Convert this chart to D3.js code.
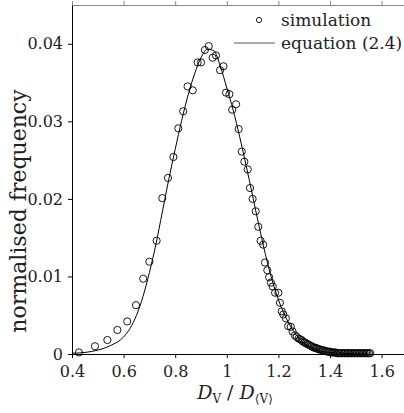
<!DOCTYPE html>
<html>
<head>
<meta charset="utf-8">
<script src="https://cdn.jsdelivr.net/npm/d3@7"></script>
<style>
  body { margin: 0; background: #fff; }
  svg { display: block; }
  text { font-family: "DejaVu Serif", serif; }
</style>
</head>
<body>
<div id="chart"></div>
<script>
// simulation histogram (circles)
const simX = [0.427, 0.489, 0.537, 0.576, 0.614, 0.648, 0.676, 0.700, 0.728, 0.750,
  0.772, 0.793, 0.812, 0.831, 0.848, 0.868, 0.887, 0.900, 0.915, 0.930,
  0.945, 0.958, 0.974, 0.987, 0.997, 1.010, 1.021, 1.036, 1.046, 1.058,
  1.068, 1.081, 1.090, 1.100, 1.112, 1.122, 1.131, 1.141, 1.148, 1.157,
  1.164, 1.171, 1.178, 1.187, 1.200, 1.206, 1.213, 1.219, 1.229, 1.238,
  1.248, 1.255, 1.264, 1.271, 1.278, 1.284, 1.290, 1.295, 1.301, 1.306,
  1.312, 1.317, 1.323, 1.328, 1.334, 1.339, 1.345, 1.350, 1.356, 1.361,
  1.367, 1.372, 1.378, 1.383, 1.389, 1.394, 1.400, 1.405, 1.411, 1.416,
  1.422, 1.427, 1.433, 1.438, 1.444, 1.450, 1.456, 1.461, 1.467, 1.472,
  1.478, 1.484, 1.489, 1.495, 1.500, 1.506, 1.512, 1.517, 1.523, 1.528,
  1.534, 1.540, 1.545, 1.551, 1.556];
const simY = [0.0002, 0.0010, 0.0018, 0.0031, 0.0042, 0.0063, 0.0097, 0.0119, 0.0146, 0.0201,
  0.0227, 0.0254, 0.0291, 0.0313, 0.0345, 0.0340, 0.0376, 0.0376, 0.0392, 0.0397,
  0.0382, 0.0385, 0.0366, 0.0371, 0.0337, 0.0335, 0.0315, 0.0322, 0.0290, 0.0261,
  0.0248, 0.0238, 0.0214, 0.0200, 0.0184, 0.0164, 0.0146, 0.0141, 0.0118, 0.0108,
  0.0099, 0.0092, 0.0087, 0.0079, 0.0079, 0.0066, 0.0055, 0.0051, 0.0046, 0.0036,
  0.0035, 0.0029, 0.0024, 0.0022, 0.0020, 0.0019, 0.0018, 0.0016, 0.0015, 0.0014,
  0.0013, 0.0012, 0.0011, 0.0010, 0.0009, 0.0008, 0.0008, 0.0007, 0.0006, 0.0006,
  0.0005, 0.0005, 0.0004, 0.0004, 0.0003, 0.0003, 0.0003, 0.0002, 0.0002, 0.0002,
  0.0002, 0.0001, 0.0001, 0.0001, 0.0001, 0.0001, 0.0001, 0.0001, 0.0001, 0.0001,
  0.0001, 0.0001, 0.0001, 0.0001, 0.0001, 0.0001, 0.0001, 0.0001, 0.0001, 0.0001,
  0.0001, 0.0001, 0.0001, 0.0001, 0.0001];

// equation (2.4) curve
const eqX = [0.40, 0.45, 0.50, 0.55, 0.60, 0.625, 0.65, 0.675, 0.70, 0.725,
  0.75, 0.775, 0.80, 0.825, 0.85, 0.875, 0.90, 0.925, 0.95, 0.975,
  1.00, 1.025, 1.05, 1.075, 1.10, 1.125, 1.15, 1.175, 1.20, 1.225,
  1.25, 1.275, 1.30, 1.35, 1.40, 1.45, 1.50, 1.55];
const eqY = [0.0001, 0.0002, 0.0005, 0.0011, 0.0022, 0.0033, 0.0050, 0.0074, 0.0105, 0.0141,
  0.0183, 0.0225, 0.0264, 0.0301, 0.0334, 0.0361, 0.0382, 0.0393, 0.0391, 0.0371,
  0.0343, 0.0314, 0.0280, 0.0243, 0.0204, 0.0165, 0.0128, 0.0096, 0.0070, 0.0050,
  0.0034, 0.0022, 0.0014, 0.0005, 0.0002, 0.0001, 0.0000, 0.0000];

const xTicks = [0.4, 0.6, 0.8, 1, 1.2, 1.4, 1.6];
const yTicks = [0, 0.01, 0.02, 0.03, 0.04];

const W = 404, H = 413;
const plotLeft = 72, plotTop = 5, plotBottom = 354;

const svg = d3.select("#chart").append("svg")
    .attr("width", W)
    .attr("height", H);

const x = d3.scaleLinear().domain([0.4, 1.7]).range([plotLeft, plotLeft + 1.3 * 258]);
const y = d3.scaleLinear().domain([0, 0.045]).range([plotBottom, plotTop]);

// axes
svg.append("g")
    .attr("transform", "translate(0," + plotBottom + ")")
    .call(d3.axisBottom(x).tickValues(xTicks).tickSize(4).tickSizeOuter(0).tickPadding(8)
      .tickFormat(d => String(d)));
const topAxis = svg.append("g")
    .attr("transform", "translate(0," + plotTop + ")")
    .call(d3.axisTop(x).tickValues(xTicks).tickSize(4).tickSizeOuter(0).tickFormat(""));
topAxis.selectAll("path, line").attr("stroke", "#888");
svg.append("g")
    .attr("transform", "translate(" + plotLeft + ",0)")
    .call(d3.axisLeft(y).tickValues(yTicks).tickSize(4).tickSizeOuter(0).tickPadding(5)
      .tickFormat(d => String(d)));

svg.selectAll(".tick text")
    .attr("font-family", "DejaVu Serif")
    .attr("font-size", 16)
    .attr("fill", "#222");
svg.selectAll(".domain, .tick line").attr("stroke-width", 1);

// curve
const line = d3.line()
    .x((d, i) => x(eqX[i]))
    .y((d, i) => y(eqY[i]))
    .curve(d3.curveMonotoneX);
svg.append("path")
    .datum(eqX)
    .attr("d", line)
    .attr("fill", "none")
    .attr("stroke", "#000")
    .attr("stroke-width", 1);

// simulation points
svg.append("g")
  .selectAll("circle")
  .data(simX)
  .enter()
  .append("circle")
    .attr("cx", (d, i) => x(simX[i]))
    .attr("cy", (d, i) => y(simY[i]))
    .attr("r", 3.6)
    .attr("fill", "none")
    .attr("stroke", "#000")
    .attr("stroke-width", 0.9);

// legend
const lg = svg.append("g");
lg.append("circle").attr("cx", 259).attr("cy", 20).attr("r", 2.6)
    .attr("fill", "none").attr("stroke", "#000").attr("stroke-width", 0.9);
lg.append("text").attr("x", 281).attr("y", 25.5).attr("font-size", 17).attr("fill", "#222")
    .text("simulation");
lg.append("line").attr("x1", 234).attr("x2", 275).attr("y1", 43).attr("y2", 43)
    .attr("stroke", "#555").attr("stroke-width", 1);
lg.append("text").attr("x", 281).attr("y", 48.5).attr("font-size", 17).attr("fill", "#222")
    .text("equation (2.4)");

// axis labels
svg.append("text")
    .attr("transform", "translate(26," + 211 + ") rotate(-90)")
    .attr("text-anchor", "middle")
    .attr("font-size", 22)
    .attr("fill", "#222")
    .text("normalised frequency");

const xl = svg.append("text")
    .attr("x", 235)
    .attr("y", 399)
    .attr("text-anchor", "middle")
    .attr("font-size", 19)
    .attr("fill", "#222");
xl.append("tspan").attr("font-style", "italic").text("D");
xl.append("tspan").attr("font-size", 12).attr("dy", 4).text("V");
xl.append("tspan").attr("dy", -4).text(" / ");
xl.append("tspan").attr("font-style", "italic").text("D");
xl.append("tspan").attr("font-size", 12).attr("dy", 4).text("\u27E8V\u27E9");
</script>
</body>
</html>
